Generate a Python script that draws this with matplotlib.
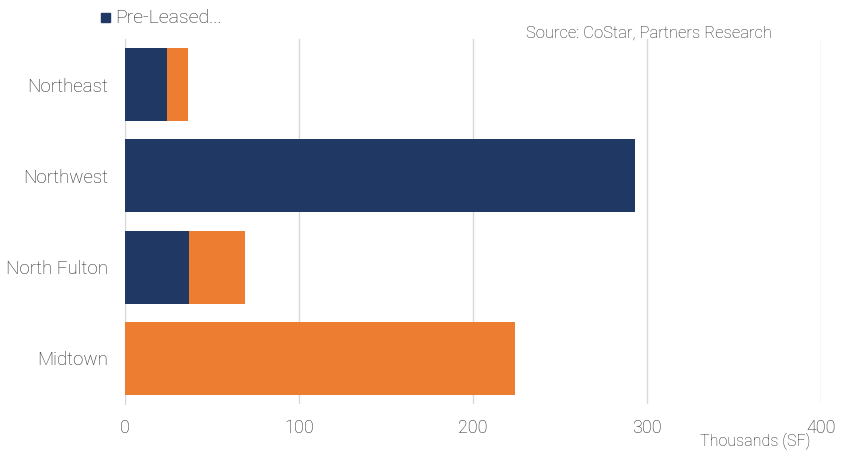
import matplotlib
matplotlib.use("Agg")
import matplotlib.pyplot as plt
from matplotlib.patches import Rectangle

categories = ["Northeast", "Northwest", "North Fulton", "Midtown"]
pre_leased = [24, 293, 37, 0]
available = [12, 0, 32, 224]
xticks = [0, 100, 200, 300, 400]

navy = "#1F3864"
orange = "#ED7D31"
txt = "#262626"

plt.rcParams['font.family'] = ['Roboto', 'DejaVu Sans']

W, H = 848, 453
fig = plt.figure(figsize=(8.48, 4.53), dpi=100)
ax = fig.add_axes([0.1474, 0.1082, 0.8208, 0.8057])

y = list(range(len(categories)))
ax.barh(y, pre_leased, height=0.8, color=navy, zorder=3)
ax.barh(y, available, left=pre_leased, height=0.8, color=orange, zorder=3)

ax.set_ylim(len(categories) - 0.5, -0.5)
ax.set_xlim(0, 400)
ax.set_yticks(y)
ax.set_yticklabels(categories, fontsize=13.5, color=txt, fontweight='light')
ax.set_xticks(xticks)
ax.set_xticklabels([str(t) for t in xticks], fontsize=13, color=txt, fontweight='light')
ax.tick_params(axis='both', length=0)
ax.tick_params(axis='x', pad=11)
ax.tick_params(axis='y', pad=12)
ax.grid(axis='x', color='#d9d9d9', linewidth=1, zorder=0)
for s in ['top', 'right', 'bottom']:
    ax.spines[s].set_visible(False)
ax.spines['left'].set_color('#d9d9d9')
ax.spines['left'].set_zorder(1)

fig.add_artist(Rectangle((101 / W, 1 - 22 / H), 9 / W, 9 / H,
                         transform=fig.transFigure, color=navy))
fig.text(115/W, 1 - 18/H, "Pre-Leased...", ha='left', va='center',
         fontsize=14, color=txt, fontweight='light')

fig.text(772/W, 1 - 33/H, "Source: CoStar, Partners Research", ha='right', va='center',
         fontsize=12, color=txt, fontweight='light')
fig.text(810/W, 1 - 441/H, "Thousands (SF)", ha='right', va='center',
         fontsize=11.5, color=txt, fontweight='light')

fig.savefig("out.png", dpi=100)
